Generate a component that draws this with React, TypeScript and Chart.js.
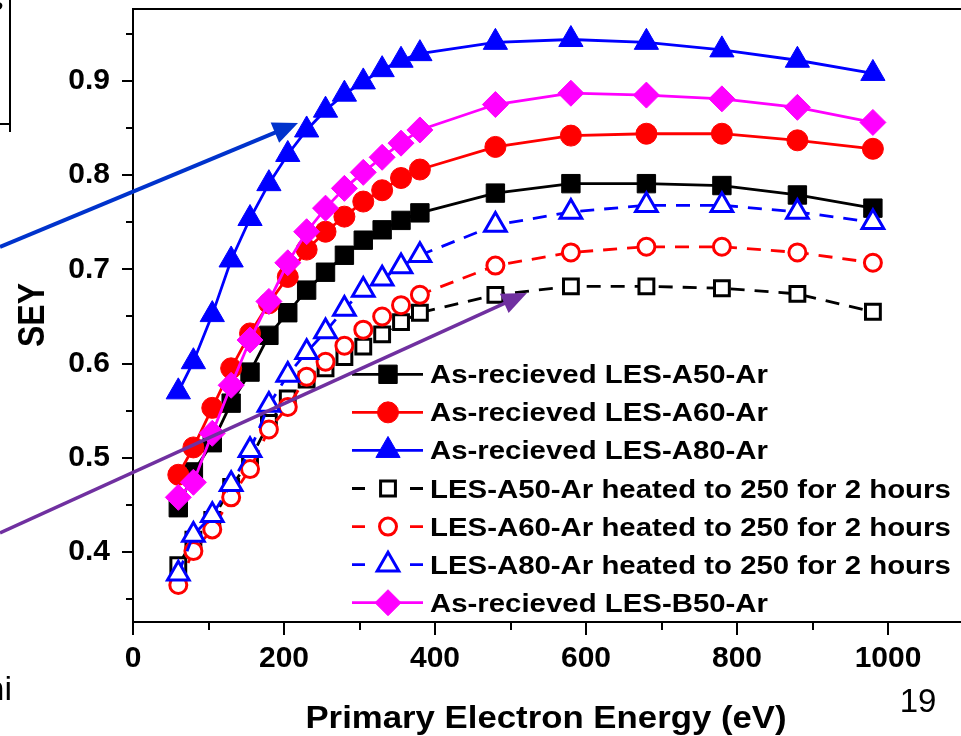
import React, { useEffect, useRef } from 'react';
import { Chart, registerables } from 'chart.js';
import { drawPoint } from 'chart.js/helpers';

Chart.register(...registerables);

// ---- data ----
const energies = [60, 80, 105, 130, 155, 180, 205, 230, 255, 280, 305, 330, 355, 380, 480, 580, 680, 780, 880, 980];
const seyA50 = [0.447, 0.485, 0.516, 0.558, 0.591, 0.630, 0.654, 0.678, 0.697, 0.715, 0.731, 0.742, 0.752, 0.760, 0.781, 0.791, 0.791, 0.789, 0.779, 0.765];
const seyA60 = [0.482, 0.511, 0.553, 0.595, 0.632, 0.664, 0.692, 0.721, 0.740, 0.756, 0.772, 0.784, 0.797, 0.806, 0.830, 0.842, 0.844, 0.844, 0.837, 0.828];
const seyA80 = [0.570, 0.602, 0.652, 0.710, 0.754, 0.791, 0.822, 0.848, 0.869, 0.886, 0.899, 0.912, 0.922, 0.929, 0.941, 0.944, 0.941, 0.933, 0.922, 0.908];
const seyA50Heated = [0.386, 0.413, 0.434, 0.469, 0.498, 0.537, 0.563, 0.583, 0.595, 0.607, 0.618, 0.631, 0.644, 0.654, 0.673, 0.682, 0.682, 0.680, 0.674, 0.655];
const seyA60Heated = [0.365, 0.401, 0.424, 0.458, 0.488, 0.530, 0.554, 0.586, 0.602, 0.619, 0.636, 0.650, 0.662, 0.673, 0.704, 0.718, 0.724, 0.724, 0.718, 0.707];
const seyA80Heated = [0.377, 0.418, 0.439, 0.472, 0.508, 0.556, 0.588, 0.612, 0.634, 0.658, 0.678, 0.690, 0.703, 0.715, 0.747, 0.761, 0.768, 0.768, 0.761, 0.750];
const seyB50 = [0.458, 0.474, 0.526, 0.577, 0.625, 0.666, 0.707, 0.740, 0.765, 0.786, 0.803, 0.819, 0.834, 0.848, 0.875, 0.887, 0.885, 0.881, 0.872, 0.856];

const seriesLabels = [
  'As-recieved LES-A50-Ar',
  'As-recieved LES-A60-Ar',
  'As-recieved LES-A80-Ar',
  'LES-A50-Ar heated to 250 for 2 hours',
  'LES-A60-Ar heated to 250 for 2 hours',
  'LES-A80-Ar heated to 250 for 2 hours',
  'As-recieved LES-B50-Ar',
];

const xTickValues = [0, 200, 400, 600, 800, 1000];
const xMinorValues = [100, 300, 500, 700, 900, 1100];
const yTickValues = [0.4, 0.5, 0.6, 0.7, 0.8, 0.9];
const yMinorValues = [0.35, 0.45, 0.55, 0.65, 0.75, 0.85, 0.95];

const xTitle = 'Primary Electron Energy (eV)';
const yTitle = 'SEY';
const pageNumber = '19';
const leftFragment = 'ni';
const cornerFragment = 's';

const FONT = '"Liberation Sans", Arial, Helvetica, sans-serif';
const SX = 1.13;

function makeSeries(label: string, values: number[], color: string, style: string, radius: number, filled: boolean, dashed: boolean) {
  return {
    label,
    data: energies.map((x, i) => ({ x, y: values[i] })),
    borderColor: color,
    backgroundColor: color,
    borderWidth: 2.8,
    borderDash: dashed ? [14, 10] : [],
    pointStyle: style,
    pointRadius: radius,
    pointHoverRadius: radius,
    pointBackgroundColor: filled ? color : '#ffffff',
    pointBorderColor: color,
    pointBorderWidth: filled ? 1 : 3,
    tension: 0,
    fill: false,
  };
}

function sText(ctx: CanvasRenderingContext2D, text: string, x: number, y: number, font: string, align: CanvasTextAlign, baseline: CanvasTextBaseline, sx: number, rot = false) {
  ctx.save();
  ctx.font = font;
  ctx.fillStyle = '#000';
  ctx.textAlign = align;
  ctx.textBaseline = baseline;
  ctx.translate(x, y);
  ctx.scale(sx, 1);
  if (rot) ctx.rotate(-Math.PI / 2);
  ctx.fillText(text, 0, 0);
  ctx.restore();
}

function arrow(ctx: CanvasRenderingContext2D, x0: number, y0: number, x1: number, y1: number, color: string, lw: number, headLen: number, headW: number) {
  const ang = Math.atan2(y1 - y0, x1 - x0);
  const bx = x1 - headLen * Math.cos(ang);
  const by = y1 - headLen * Math.sin(ang);
  ctx.save();
  ctx.strokeStyle = color;
  ctx.fillStyle = color;
  ctx.lineWidth = lw;
  ctx.beginPath();
  ctx.moveTo(x0, y0);
  ctx.lineTo(bx + Math.cos(ang) * 2, by + Math.sin(ang) * 2);
  ctx.stroke();
  ctx.beginPath();
  ctx.moveTo(x1, y1);
  ctx.lineTo(bx + (headW / 2) * Math.sin(ang), by - (headW / 2) * Math.cos(ang));
  ctx.lineTo(bx - (headW / 2) * Math.sin(ang), by + (headW / 2) * Math.cos(ang));
  ctx.closePath();
  ctx.fill();
  ctx.restore();
}

const decorPlugin = {
  id: 'decor',
  afterDraw(chart: any) {
    const { ctx, chartArea: ca, scales } = chart;
    const xs = scales.x;
    const ys = scales.y;
    ctx.save();
    ctx.strokeStyle = '#000';
    ctx.lineWidth = 2;
    ctx.lineCap = 'butt';
    // frame
    ctx.beginPath();
    ctx.moveTo(ca.left, ca.bottom + 1);
    ctx.lineTo(ca.left, ca.top);
    ctx.moveTo(ca.left - 1, ca.top);
    ctx.lineTo(ca.right + 2, ca.top);
    ctx.moveTo(ca.left - 1, ca.bottom);
    ctx.lineTo(ca.right + 2, ca.bottom);
    ctx.stroke();
    // ticks
    ctx.beginPath();
    yTickValues.forEach((v) => {
      const p = Math.round(ys.getPixelForValue(v));
      ctx.moveTo(ca.left, p);
      ctx.lineTo(ca.left - 11, p);
    });
    yMinorValues.forEach((v) => {
      const p = Math.round(ys.getPixelForValue(v));
      ctx.moveTo(ca.left, p);
      ctx.lineTo(ca.left - 7, p);
    });
    xTickValues.forEach((v) => {
      const p = Math.round(xs.getPixelForValue(v));
      ctx.moveTo(p, ca.bottom);
      ctx.lineTo(p, ca.bottom + 13);
    });
    xMinorValues.forEach((v) => {
      const p = Math.round(xs.getPixelForValue(v));
      ctx.moveTo(p, ca.bottom);
      ctx.lineTo(p, ca.bottom + 8);
    });
    ctx.stroke();
    ctx.restore();

    // legend
    const lx0 = 352;
    const lx1 = 423;
    const lmid = 388;
    chart.data.datasets.forEach((ds: any, i: number) => {
      const base = 383.3 + 38.07 * i;
      const y = base - 9;
      ctx.save();
      ctx.strokeStyle = ds.borderColor;
      ctx.lineWidth = ds.borderWidth;
      ctx.beginPath();
      if (ds.borderDash && ds.borderDash.length) {
        ctx.moveTo(lx0, y);
        ctx.lineTo(lx0 + 13, y);
        ctx.moveTo(lx1 - 13, y);
        ctx.lineTo(lx1, y);
      } else {
        ctx.moveTo(lx0, y);
        ctx.lineTo(lx1, y);
      }
      ctx.stroke();
      ctx.fillStyle = ds.pointBackgroundColor;
      ctx.strokeStyle = ds.pointBorderColor;
      ctx.lineWidth = ds.pointBorderWidth;
      drawPoint(ctx, { pointStyle: ds.pointStyle, radius: ds.pointRadius, rotation: 0, borderWidth: ds.pointBorderWidth } as any, lmid, y);
      ctx.restore();
      sText(ctx, ds.label, 430, base, `bold 26px ${FONT}`, 'left', 'alphabetic', SX);
    });

    // titles
    sText(ctx, xTitle, 546, 728, `bold 30.5px ${FONT}`, 'center', 'alphabetic', 1.14);
    sText(ctx, yTitle, 44, 315, `bold 32px ${FONT}`, 'center', 'alphabetic', SX, true);

    // slide fragments
    sText(ctx, pageNumber, 918, 712, `33px ${FONT}`, 'center', 'alphabetic', 1);
    sText(ctx, leftFragment, 12, 700, `34px ${FONT}`, 'right', 'alphabetic', 1);
    sText(ctx, cornerFragment, 3.5, 10, `bold 26px ${FONT}`, 'right', 'alphabetic', 1);
    ctx.save();
    ctx.strokeStyle = '#000';
    ctx.lineWidth = 2;
    ctx.beginPath();
    ctx.moveTo(10, 0);
    ctx.lineTo(10, 132);
    ctx.moveTo(0, 124);
    ctx.lineTo(10, 124);
    ctx.stroke();
    ctx.restore();

    // annotation arrows
    arrow(ctx, 0, 247, 298, 123, '#0033CC', 4, 25, 22);
    arrow(ctx, 0, 533, 527, 293, '#7030A0', 3.5, 25, 21);
  },
};

export default function App() {
  const canvasRef = useRef<HTMLCanvasElement | null>(null);

  useEffect(() => {
    const canvas = canvasRef.current;
    if (!canvas) return;
    const datasets: any[] = [
      makeSeries(seriesLabels[0], seyA50, '#000000', 'rect', 13, true, false),
      makeSeries(seriesLabels[1], seyA60, '#FF0000', 'circle', 10.5, true, false),
      makeSeries(seriesLabels[2], seyA80, '#0000FF', 'triangle', 14, true, false),
      makeSeries(seriesLabels[3], seyA50Heated, '#000000', 'rect', 10.5, false, true),
      makeSeries(seriesLabels[4], seyA60Heated, '#FF0000', 'circle', 8.5, false, true),
      makeSeries(seriesLabels[5], seyA80Heated, '#0000FF', 'triangle', 12.5, false, true),
      makeSeries(seriesLabels[6], seyB50, '#FF00FF', 'rectRot', 13, true, false),
    ];
    datasets.forEach((d, i) => { d.order = -i; });

    const tickFont = { family: FONT, size: 30, weight: 'bold' as const };
    const chart = new Chart(canvas, {
      type: 'line',
      data: { datasets },
      options: {
        responsive: false,
        animation: false,
        devicePixelRatio: 1,
        events: [],
        layout: { autoPadding: false, padding: { left: 0, top: 9, right: 36.5, bottom: 0 } },
        plugins: {
          legend: { display: false },
          tooltip: { enabled: false },
          title: { display: false },
        },
        scales: {
          x: {
            type: 'linear',
            min: 0,
            max: 1100,
            grid: { display: false, drawTicks: false },
            border: { display: false },
            afterBuildTicks: (s: any) => { s.ticks = xTickValues.map((v) => ({ value: v })); },
            afterFit: (s: any) => { s.height = 114; s.paddingLeft = 0; s.paddingRight = 0; s.paddingTop = 0; s.paddingBottom = 0; },
            ticks: {
              font: tickFont,
              color: '#000',
              padding: 19,
              maxRotation: 0,
              autoSkip: false,
              callback: (v: any) => String(v),
            },
          },
          y: {
            type: 'linear',
            min: 0.3257,
            max: 0.9764,
            grid: { display: false, drawTicks: false },
            border: { display: false },
            afterBuildTicks: (s: any) => { s.ticks = yTickValues.map((v) => ({ value: v })); },
            afterFit: (s: any) => { s.width = 133; s.paddingLeft = 0; s.paddingRight = 0; s.paddingTop = 0; s.paddingBottom = 0; },
            ticks: {
              font: tickFont,
              color: '#000',
              padding: 23,
              autoSkip: false,
              callback: (v: any) => Number(v).toFixed(1),
            },
          },
        },
      } as any,
      plugins: [decorPlugin],
    });
    return () => chart.destroy();
  }, []);

  return (
    <div style={{ position: 'fixed', left: 0, top: 0, width: 961, height: 736, overflow: 'hidden', background: '#ffffff' }}>
      <canvas ref={canvasRef} width={1000} height={736} style={{ display: 'block' }} />
    </div>
  );
}
